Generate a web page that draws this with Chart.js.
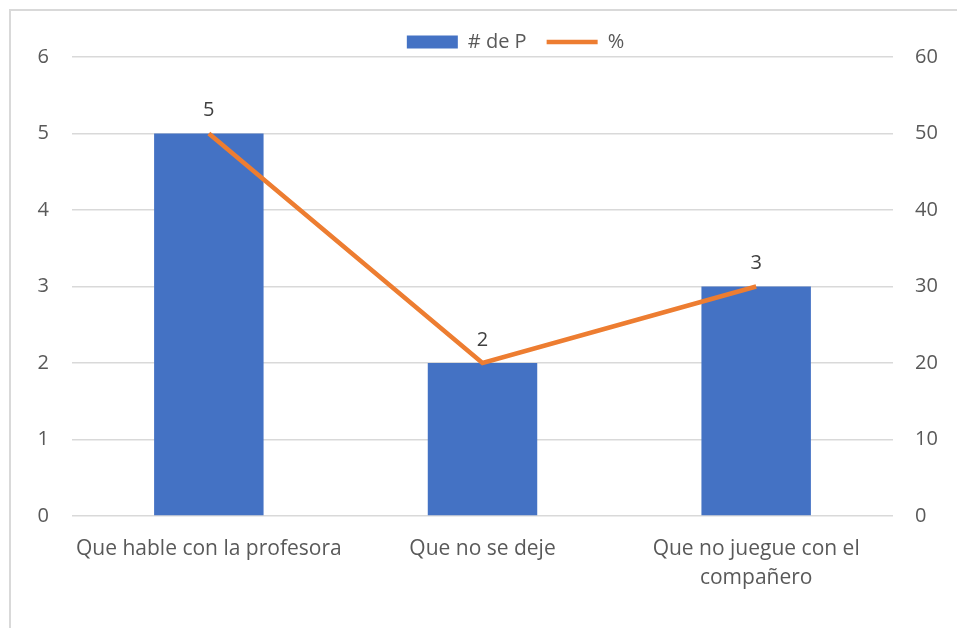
<!DOCTYPE html>
<html><head><meta charset="utf-8">
<script src="https://cdn.jsdelivr.net/npm/chart.js@4"></script>
<style>
html,body{margin:0;padding:0;background:#fff;width:957px;height:628px;overflow:hidden;}
#frame{position:absolute;left:9px;top:9px;width:1000px;height:700px;border-left:2px solid #d9d9d9;border-top:2px solid #d9d9d9;box-sizing:border-box;}
#wrap{position:absolute;left:0;top:0;width:957px;height:628px;}
</style></head><body>
<div id="frame"></div>
<div id="wrap"><canvas id="c" width="957" height="628"></canvas></div>
<script>
const categories = ['Que hable con la profesora', 'Que no se deje', ['Que no juegue con el', 'compañero']];
const countValues = [5, 2, 3];
const percentValues = [50, 20, 30];
const seriesNames = ['# de P', '%'];
const leftTickMax = 6;
const rightTickMax = 60;

const FONT = "'Open Sans', 'Liberation Sans', sans-serif";
const TXT = '#595959';
const GRID = '#d9d9d9';

const legendPatch = {
  id: 'legendPatch',
  beforeLayout(chart) {
    const lg = chart.legend;
    if (lg && !lg._patched) {
      const f = lg.fit.bind(lg);
      lg.fit = function () { f(); this.height = 50; };
      lg._patched = true;
    }
  },
  afterLayout(chart) {
    const lg = chart.legend;
    if (!lg) return;
    const dx = 37, dy = 5;
    lg.left += dx; lg.right += dx;
    lg.top += dy; lg.bottom += dy;
  }
};

const barLabels = {
  id: 'barLabels',
  afterDatasetsDraw(chart) {
    const ctx = chart.ctx;
    const meta = chart.getDatasetMeta(0);
    ctx.save();
    ctx.font = "20px " + FONT;
    ctx.fillStyle = '#404040';
    ctx.textAlign = 'center';
    ctx.textBaseline = 'middle';
    meta.data.forEach((el, i) => {
      ctx.fillText(String(countValues[i]), el.x, el.y - 23);
    });
    ctx.restore();
  }
};

new Chart(document.getElementById('c'), {
  data: {
    labels: categories,
    datasets: [
      {
        type: 'bar',
        label: seriesNames[0],
        data: countValues,
        backgroundColor: '#4472C4',
        borderWidth: 0,
        yAxisID: 'y',
        order: 1,
        barPercentage: 0.4,
        categoryPercentage: 1.0
      },
      {
        type: 'line',
        label: seriesNames[1],
        data: percentValues,
        borderColor: '#ED7D31',
        backgroundColor: '#ED7D31',
        borderWidth: 4.5,
        pointRadius: 0,
        tension: 0,
        yAxisID: 'y1',
        order: 0
      }
    ]
  },
  options: {
    responsive: false,
    animation: false,
    layout: { padding: { top: 7, left: 0, right: 0, bottom: 0 } },
    plugins: {
      tooltip: { enabled: false },
      legend: {
        position: 'top',
        align: 'center',
        labels: {
          usePointStyle: true,
          pointStyleWidth: 51,
          boxHeight: 13,
          padding: 20,
          color: TXT,
          font: { family: FONT, size: 20 },
          sort: (a, b) => a.datasetIndex - b.datasetIndex,
          generateLabels(chart) {
            const items = Chart.defaults.plugins.legend.labels.generateLabels(chart);
            items.forEach(it => {
              if (it.datasetIndex === 0) { it.pointStyle = 'rect'; it.lineWidth = 0; }
              else { it.pointStyle = 'line'; it.strokeStyle = '#ED7D31'; it.lineWidth = 4.5; }
            });
            return items;
          }
        }
      }
    },
    scales: {
      x: {
        grid: { display: false, drawTicks: false },
        border: { display: false },
        ticks: { color: TXT, font: { family: FONT, size: 21, lineHeight: 1.38 }, padding: 19, maxRotation: 0, autoSkip: false },
        afterFit(s) { s.height = 112; }
      },
      y: {
        position: 'left',
        min: 0, max: leftTickMax,
        ticks: { stepSize: 1, color: TXT, font: { family: FONT, size: 20 }, padding: 23 },
        grid: { color: GRID, lineWidth: 1.5, drawTicks: false },
        border: { display: false },
        afterFit(s) { s.width = 72; }
      },
      y1: {
        position: 'right',
        min: 0, max: rightTickMax,
        ticks: { stepSize: 10, color: TXT, font: { family: FONT, size: 20 }, padding: 22 },
        grid: { display: false, drawTicks: false },
        border: { display: false },
        afterFit(s) { s.width = 64; }
      }
    }
  },
  plugins: [legendPatch, barLabels]
});
</script>
</body></html>
